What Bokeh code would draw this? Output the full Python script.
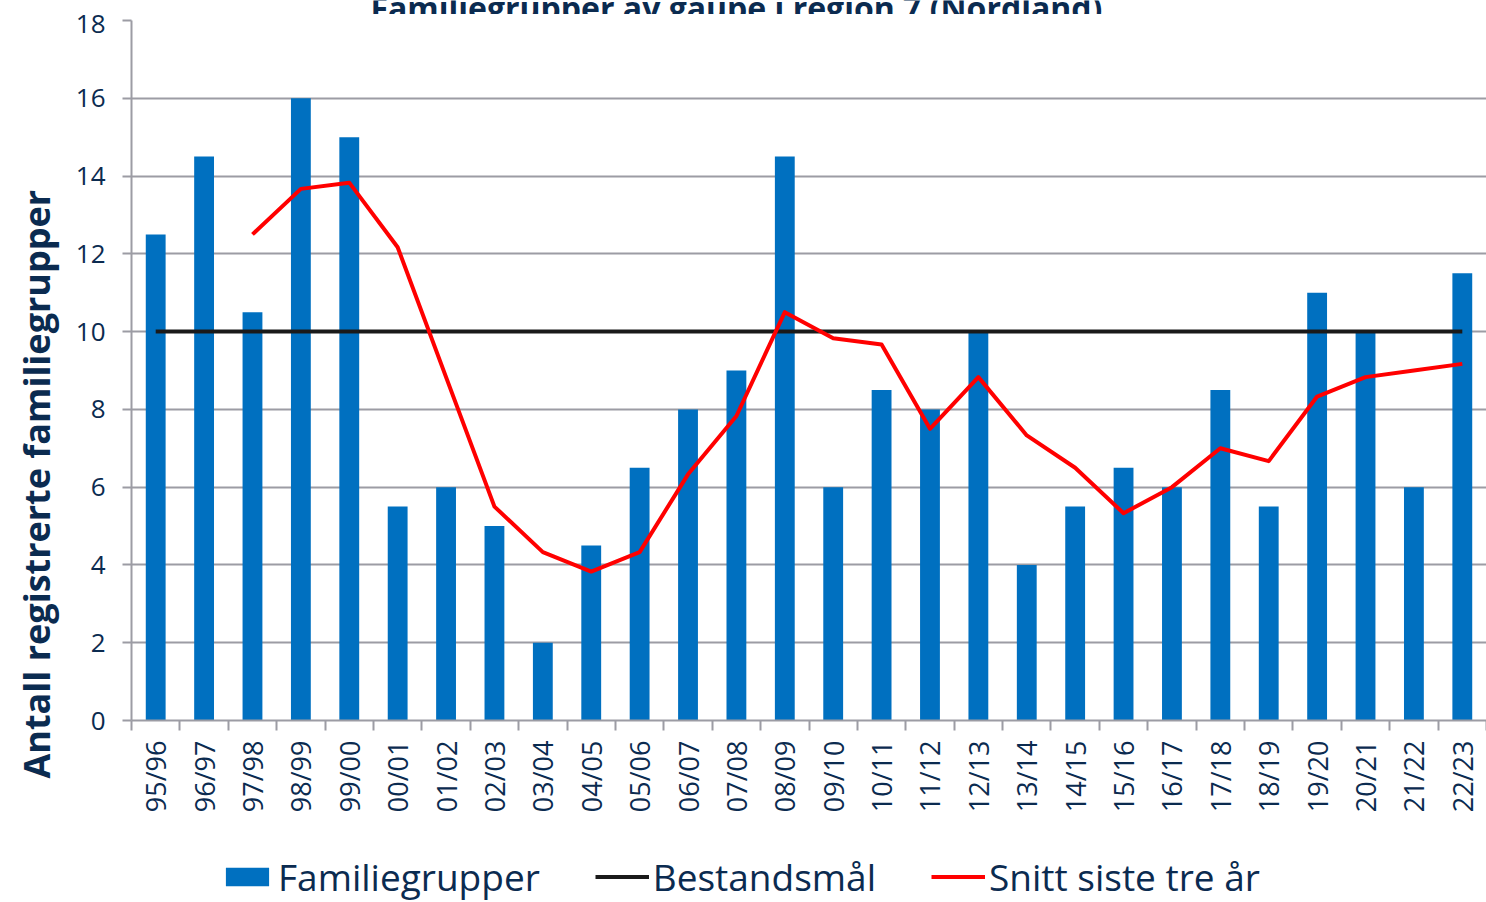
import math
from bokeh.plotting import figure
from bokeh.layouts import column
from bokeh.models import Range1d, FixedTicker, Label, Legend, LegendItem, Title
from bokeh.embed import file_html
from bokeh.resources import INLINE

seasons = ["95/96", "96/97", "97/98", "98/99", "99/00", "00/01", "01/02", "02/03",
           "03/04", "04/05", "05/06", "06/07", "07/08", "08/09", "09/10", "10/11",
           "11/12", "12/13", "13/14", "14/15", "15/16", "16/17", "17/18", "18/19",
           "19/20", "20/21", "21/22", "22/23"]
familiegrupper = [12.5, 14.5, 10.5, 16, 15, 5.5, 6, 5, 2, 4.5, 6.5, 8, 9, 14.5,
                  6, 8.5, 8, 10, 4, 5.5, 6.5, 6, 8.5, 5.5, 11, 10, 6, 11.5]
bestandsmaal = [10] * 28
snitt_seasons = seasons[2:]
snitt_siste_tre = [12.5, 13.67, 13.83, 12.17, 8.83, 5.5, 4.33, 3.83, 4.33, 6.33,
                   7.83, 10.5, 9.83, 9.67, 7.5, 8.83, 7.33, 6.5, 5.33, 6.0, 7.0,
                   6.67, 8.33, 8.83, 9.0, 9.17]
y_ticks = [0, 2, 4, 6, 8, 10, 12, 14, 16, 18]

title_text = "Familiegrupper av gaupe i region 7 (Nordland)"
ylabel_text = "Antall registrerte familiegrupper"
legend_labels = ["Familiegrupper", "Bestandsmål", "Snitt siste tre år"]

NAVY = "#0b2b50"
GREY = "#9c9ca4"
BLUE = "#0070C0"
RED = "#FF0000"
BLACK = "#1a1a1a"
FONT = "Open Sans"

xc = [i + 0.5 for i in range(len(seasons))]
xs = [seasons.index(s) + 0.5 for s in snitt_seasons]

# title strip (the title is cut by the top edge, as in the reference)
t = figure(width=1486, height=14, x_range=Range1d(0, len(seasons)),
           y_range=Range1d(0, 1), output_backend="svg", toolbar_location=None,
           min_border=0, x_axis_type=None, y_axis_type=None)
t.outline_line_color = None
t.grid.visible = False
t.add_layout(Label(x=12.5, y=7, y_units="screen", text=title_text,
                   text_font=FONT, text_font_size="32px",
                   text_font_style="bold", text_color=NAVY,
                   text_align="center", text_baseline="alphabetic"))

p = figure(width=1486, height=806, x_range=Range1d(0, len(seasons)),
           y_range=Range1d(0, 18), output_backend="svg", toolbar_location=None,
           min_border_left=131, min_border_right=0, min_border_top=6,
           min_border_bottom=100)
p.outline_line_color = None
p.background_fill_color = "white"

bars = p.vbar(x=xc, top=familiegrupper, width=0.41, fill_color=BLUE,
              line_color=None)
target = p.line(xc, bestandsmaal, line_color=BLACK, line_width=4)
avg = p.line(xs, snitt_siste_tre, line_color=RED, line_width=4,
             line_join="round")

# y axis
p.yaxis.ticker = FixedTicker(ticks=y_ticks)
p.yaxis.axis_line_color = GREY
p.yaxis.axis_line_width = 2
p.yaxis.major_tick_line_color = GREY
p.yaxis.major_tick_line_width = 2
p.yaxis.major_tick_out = 9
p.yaxis.major_tick_in = 0
p.yaxis.minor_tick_line_color = None
p.yaxis.major_label_text_font = FONT
p.yaxis.major_label_text_font_size = "26px"
p.yaxis.major_label_text_color = NAVY
p.yaxis.major_label_standoff = 17

# x axis
p.xaxis.ticker = FixedTicker(ticks=xc, minor_ticks=list(range(len(seasons) + 1)))
p.xaxis.major_label_overrides = {x: s for x, s in zip(xc, seasons)}
p.xaxis.major_label_orientation = math.pi / 2
p.xaxis.axis_line_color = GREY
p.xaxis.axis_line_width = 2
p.xaxis.major_tick_line_color = None
p.xaxis.major_tick_out = 10
p.xaxis.major_tick_in = 0
p.xaxis.minor_tick_line_color = GREY
p.xaxis.minor_tick_line_width = 2
p.xaxis.minor_tick_out = 10
p.xaxis.minor_tick_in = 0
p.xaxis.major_label_text_font = FONT
p.xaxis.major_label_text_font_size = "27px"
p.xaxis.major_label_text_color = NAVY
p.xaxis.major_label_standoff = 10

p.xgrid.visible = False
p.ygrid.ticker = FixedTicker(ticks=y_ticks)
p.ygrid.grid_line_color = GREY
p.ygrid.grid_line_width = 2

ytitle = Title(text=ylabel_text, align="left", offset=-58,
               vertical_align="top", standoff=20, text_font=FONT,
               text_font_size="36px", text_font_style="bold", text_color=NAVY)
p.add_layout(ytitle, "left")

# legend strip below the chart (legend-only proxy glyphs of zero size)
q = figure(width=1486, height=82, x_range=Range1d(0, 1), y_range=Range1d(0, 1),
           output_backend="svg", toolbar_location=None, min_border=0,
           x_axis_type=None, y_axis_type=None)
q.outline_line_color = None
q.border_fill_color = "white"
q.background_fill_color = "white"
q.grid.visible = False
lb = q.vbar(x=[0.5], top=[0.5], bottom=[0.5], width=0, fill_color=BLUE,
            line_color=None)
ll = q.line(x=[0.5, 0.5], y=[0.5, 0.5], line_color=BLACK, line_width=4)
lr = q.line(x=[0.5, 0.5], y=[0.5, 0.5], line_color=RED, line_width=4)
legend = Legend(items=[LegendItem(label=legend_labels[0], renderers=[lb]),
                       LegendItem(label=legend_labels[1], renderers=[ll]),
                       LegendItem(label=legend_labels[2], renderers=[lr])],
                orientation="horizontal", location=(89, 0), padding=0,
                margin=0, spacing=55, label_standoff=4, glyph_width=54,
                glyph_height=23, label_text_font=FONT,
                label_text_font_size="37px", label_text_color=NAVY,
                background_fill_alpha=0, border_line_color=None)
q.add_layout(legend)

open("out.html", "w").write(file_html(column(t, p, q, spacing=0), INLINE))
